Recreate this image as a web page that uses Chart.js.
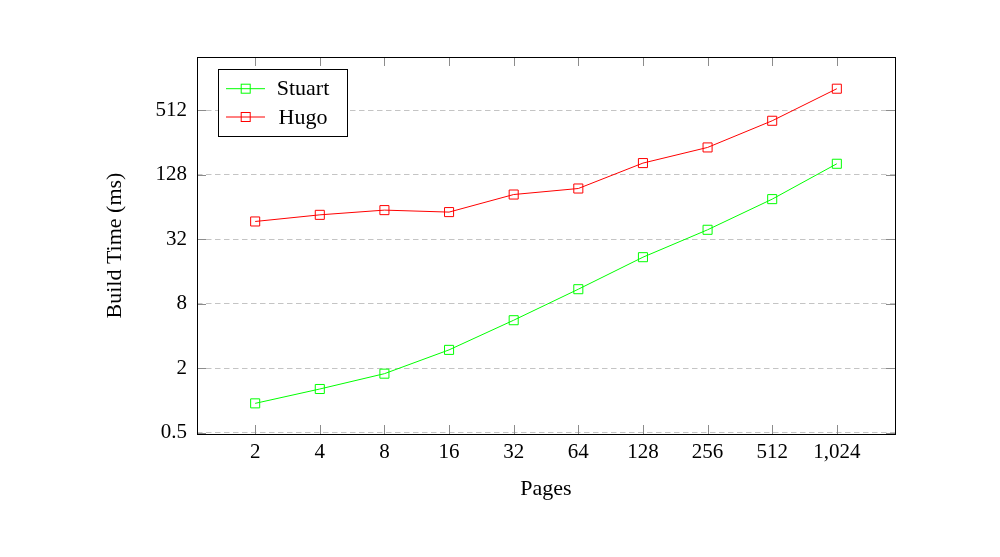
<!DOCTYPE html>
<html><head><meta charset="utf-8">
<script src="https://cdn.jsdelivr.net/npm/chart.js@4/dist/chart.umd.min.js"></script>
<style>html,body{margin:0;padding:0;background:#fff;} #wrap{width:1000px;height:557px;}</style>
</head><body><div id="wrap"><canvas id="c" width="1000" height="557"></canvas></div>
<script>
const pages = [2, 4, 8, 16, 32, 64, 128, 256, 512, 1024];
const stuart = [0.94, 1.28, 1.78, 2.97, 5.62, 10.95, 21.8, 39.3, 76.0, 162.6];
const hugo = [47.0, 54.2, 60.0, 57.5, 83.9, 95.5, 165, 231, 410, 817];
const yTicks = [0.5, 2, 8, 32, 128, 512];
const seriesNames = ['Stuart', 'Hugo'];
const seriesColors = ['#00ff00', '#ff0000'];
const xTitle = 'Pages';
const yTitle = 'Build Time (ms)';

const FONT = 'Liberation Serif';
const FS = 21;
const FT = 22;

function toPoints(vals) { return pages.map((p, i) => ({ x: p, y: vals[i] })); }

function ds(name, vals, color) {
  return {
    label: name, data: toPoints(vals), borderColor: color, backgroundColor: 'transparent',
    borderWidth: 1, pointStyle: 'rect', pointRadius: 6.4, pointHoverRadius: 6.4,
    pointBorderColor: color, pointBackgroundColor: 'transparent', pointBorderWidth: 1,
    tension: 0, fill: false
  };
}

const frame = {
  id: 'frame',
  afterDatasetsDraw(chart) {
    const { ctx, chartArea: a, scales: { x, y } } = chart;
    ctx.save();
    ctx.strokeStyle = '#8c8c8c';
    ctx.lineWidth = 1;
    const tl = 9;
    ctx.beginPath();
    x.ticks.forEach((t, i) => {
      const px = Math.round(x.getPixelForTick(i)) + 0.5;
      ctx.moveTo(px, a.bottom); ctx.lineTo(px, a.bottom - tl);
      ctx.moveTo(px, a.top); ctx.lineTo(px, a.top + tl);
    });
    y.ticks.forEach((t, i) => {
      const py = Math.round(y.getPixelForTick(i)) + 0.5;
      ctx.moveTo(a.left, py); ctx.lineTo(a.left + tl, py);
      ctx.moveTo(a.right, py); ctx.lineTo(a.right - tl, py);
    });
    ctx.stroke();
    ctx.strokeStyle = '#000';
    ctx.strokeRect(Math.round(a.left) + 0.5, Math.round(a.top) + 0.5,
      Math.round(a.right - a.left), Math.round(a.bottom - a.top));
    ctx.restore();
  },
  afterDraw(chart) {
    const { ctx } = chart;
    ctx.save();
    const bx = 218.5, by = 69.5, bw = 129, bh = 67;
    ctx.fillStyle = '#fff';
    ctx.fillRect(bx, by, bw, bh);
    ctx.strokeStyle = '#000'; ctx.lineWidth = 1;
    ctx.strokeRect(bx, by, bw, bh);
    const rows = [88.7, 117];
    chart.data.datasets.forEach((d, i) => {
      const yy = rows[i];
      ctx.strokeStyle = d.borderColor;
      ctx.beginPath(); ctx.moveTo(226, yy); ctx.lineTo(265, yy); ctx.stroke();
      ctx.strokeRect(241.2, yy - 4.5, 9, 9);
      ctx.fillStyle = '#000';
      ctx.font = FT + 'px "' + FONT + '"';
      ctx.textAlign = 'center'; ctx.textBaseline = 'middle';
      ctx.fillText(d.label, 303, yy + 1);
    });
    ctx.restore();
  }
};

new Chart(document.getElementById('c'), {
  type: 'line',
  data: { datasets: [ds(seriesNames[0], stuart, seriesColors[0]), ds(seriesNames[1], hugo, seriesColors[1])] },
  plugins: [frame],
  options: {
    responsive: false, animation: false,
    layout: { padding: { left: 0, top: 57, right: 105, bottom: 0 } },
    plugins: { legend: { display: false }, tooltip: { enabled: false } },
    scales: {
      x: {
        type: 'logarithmic', bounds: 'data',
        min: Math.pow(2, 0.1), max: Math.pow(2, 10.9),
        afterBuildTicks: s => { s.ticks = pages.map(v => ({ value: v })); },
        afterFit: s => { s.height = 123; },
        grid: { display: false, drawTicks: false },
        border: { display: false },
        ticks: { color: '#000', padding: 6, maxRotation: 0, autoSkip: false,
          font: { family: FONT, size: FS },
          callback: v => Number(v).toLocaleString('en-US') },
        title: { display: true, text: xTitle, color: '#000', font: { family: FONT, size: FT },
          padding: { top: 0, bottom: 55 } }
      },
      y: {
        type: 'logarithmic', bounds: 'data',
        min: Math.pow(2, -1.04), max: Math.pow(2, 10.658),
        afterBuildTicks: s => { s.ticks = yTicks.map(v => ({ value: v })); },
        afterFit: s => { s.width = 197; },
        grid: { color: '#c4c4c4', lineWidth: 1, drawTicks: false },
        border: { display: false, dash: [5.5, 3.5] },
        ticks: { color: '#000', padding: 10, autoSkip: false,
          font: { family: FONT, size: FS },
          callback: v => String(v) },
        title: { display: true, text: yTitle, color: '#000', font: { family: FONT, size: FT },
          padding: { top: 102, bottom: 0 } }
      }
    }
  }
});
</script>
</body></html>
